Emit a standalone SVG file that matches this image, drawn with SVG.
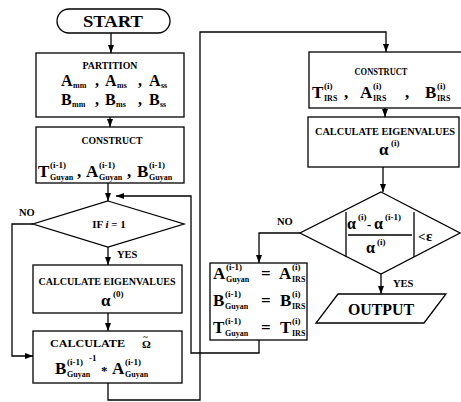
<svg xmlns="http://www.w3.org/2000/svg" width="461" height="402" viewBox="0 0 461 402">
<defs>
<marker id="ar" markerWidth="8" markerHeight="6" refX="8" refY="3" orient="auto" markerUnits="userSpaceOnUse"><path d="M0,0 L8,3 L0,6 z" fill="#000"/></marker>
</defs>
<style>
.ln{fill:none;stroke:#000;stroke-width:1.3}
.bx{fill:#fff;stroke:#000;stroke-width:1.3}
text{font-family:"Liberation Serif","Times New Roman",serif;font-weight:bold;fill:#000}
.t{font-size:9.5px}
.m{font-size:17px}
.sp{font-size:9px}
.sb{font-size:8px}
.lb{font-size:10.5px}
.c{text-anchor:middle}
</style>
<rect width="461" height="402" fill="#fff"/>
<g id="connectors" class="ln">
<path d="M111,33 V53" marker-end="url(#ar)"/>
<path d="M110,117 V127" marker-end="url(#ar)"/>
<path d="M108,183 V201" marker-end="url(#ar)"/>
<path d="M108,247 V265" marker-end="url(#ar)"/>
<path d="M108,313 V331" marker-end="url(#ar)"/>
<path d="M33,224 H12 V356 H33" marker-end="url(#ar)"/>
<path d="M108,383 V400 H200 V32 H386 V52" marker-end="url(#ar)"/>
<path d="M385,108 V117" marker-end="url(#ar)"/>
<path d="M383,167 V192" marker-end="url(#ar)"/>
<path d="M300,233 H259 V263" marker-end="url(#ar)"/>
<path d="M381,274 V294" marker-end="url(#ar)"/>
<path d="M259,340 V353 H191 V196 H116" marker-end="url(#ar)"/>
</g>
<g id="start">
<rect class="bx" x="57" y="9" width="113" height="24" rx="12"/>
<text class="c" x="113" y="27" font-size="17" textLength="60" lengthAdjust="spacingAndGlyphs">START</text>
</g>
<g id="partition">
<rect class="bx" x="36" y="53" width="148" height="64"/>
<text class="t c" x="110" y="69" textLength="55" lengthAdjust="spacingAndGlyphs">PARTITION</text>
<text font-size="16"><tspan x="61" y="86">A</tspan><tspan class="sb" x="73" y="88">mm</tspan><tspan x="95" y="86">,</tspan><tspan x="105" y="86">A</tspan><tspan class="sb" x="117" y="88">ms</tspan><tspan x="138" y="86">,</tspan><tspan x="149" y="86">A</tspan><tspan class="sb" x="161" y="88">ss</tspan></text>
<text font-size="16"><tspan x="61" y="105">B</tspan><tspan class="sb" x="72" y="107">mm</tspan><tspan x="95" y="105">,</tspan><tspan x="105" y="105">B</tspan><tspan class="sb" x="116" y="107">ms</tspan><tspan x="138" y="105">,</tspan><tspan x="149" y="105">B</tspan><tspan class="sb" x="160" y="107">ss</tspan></text>
</g>
<g id="construct-guyan">
<rect class="bx" x="36" y="127" width="148" height="56"/>
<text class="t c" x="112" y="144" textLength="61" lengthAdjust="spacingAndGlyphs">CONSTRUCT</text>
<text class="m"><tspan x="38" y="177">T</tspan><tspan class="sp" x="50" y="168">(i-1)</tspan><tspan class="sb" x="50" y="180">Guyan</tspan><tspan x="77" y="177">,</tspan><tspan x="86" y="177">A</tspan><tspan class="sp" x="99" y="168">(i-1)</tspan><tspan class="sb" x="99" y="180">Guyan</tspan><tspan x="127" y="177">,</tspan><tspan x="137" y="177">B</tspan><tspan class="sp" x="149" y="168">(i-1)</tspan><tspan class="sb" x="149" y="180">Guyan</tspan></text>
</g>
<g id="if-i-1">
<polygon class="bx" points="108,201 184,224 108,247 33,224"/>
<text x="109" y="228" font-size="11" class="c">IF <tspan font-style="italic">i</tspan> = 1</text>
</g>
<g id="calc-eig-0">
<rect class="bx" x="33" y="265" width="149" height="48"/>
<text class="t c" x="107" y="285" textLength="137" lengthAdjust="spacingAndGlyphs">CALCULATE EIGENVALUES</text>
<text font-size="17"><tspan x="101" y="306">α</tspan><tspan class="sp" x="113" y="297">(0)</tspan></text>
</g>
<g id="calc-omega">
<rect class="bx" x="33" y="331" width="149" height="52"/>
<text class="t"><tspan x="50" y="347" textLength="75" lengthAdjust="spacingAndGlyphs">CALCULATE</tspan><tspan x="142" y="348" font-size="11">Ω</tspan><tspan x="143" y="340" font-size="9">~</tspan></text>
<text class="m"><tspan x="55" y="374">B</tspan><tspan class="sp" x="67" y="365">(i-1)</tspan><tspan class="sb" x="67" y="377">Guyan</tspan><tspan class="sp" x="89" y="361">-1</tspan><tspan x="101" y="375" font-size="13">*</tspan><tspan x="112" y="374">A</tspan><tspan class="sp" x="125" y="365">(i-1)</tspan><tspan class="sb" x="125" y="377">Guyan</tspan></text>
</g>
<g id="construct-irs">
<rect class="bx" x="309" y="52" width="155" height="56"/>
<text class="t c" x="381" y="75" textLength="53" lengthAdjust="spacingAndGlyphs">CONSTRUCT</text>
<text class="m"><tspan x="312" y="98">T</tspan><tspan class="sp" x="324" y="89">(i)</tspan><tspan class="sb" x="324" y="101">IRS</tspan><tspan x="344" y="98">,</tspan><tspan x="360" y="98">A</tspan><tspan class="sp" x="373" y="89">(i)</tspan><tspan class="sb" x="373" y="101">IRS</tspan><tspan x="405" y="98">,</tspan><tspan x="425" y="98">B</tspan><tspan class="sp" x="437" y="89">(i)</tspan><tspan class="sb" x="437" y="101">IRS</tspan></text>
</g>
<g id="calc-eig-i">
<rect class="bx" x="308" y="117" width="151" height="50"/>
<text class="t c" x="385" y="135" textLength="140" lengthAdjust="spacingAndGlyphs">CALCULATE EIGENVALUES</text>
<text font-size="17"><tspan x="379" y="155">α</tspan><tspan class="sp" x="391" y="146">(i)</tspan></text>
</g>
<g id="convergence">
<polygon class="bx" points="381,192 460,233 381,274 300,233"/>
<path class="ln" d="M346,212 V257 M414,212 V257 M348,235 H412"/>
<text font-size="16"><tspan x="347" y="229">α</tspan><tspan class="sp" x="358" y="220">(i)</tspan><tspan x="367" y="229" font-size="13">-</tspan><tspan x="374" y="229">α</tspan><tspan class="sp" x="385" y="220">(i-1)</tspan><tspan x="366" y="253">α</tspan><tspan class="sp" x="377" y="245">(i)</tspan></text>
<text font-size="15"><tspan x="418" y="241" font-size="13">&lt;</tspan><tspan x="426" y="241">ε</tspan></text>
</g>
<g id="update">
<rect class="bx" x="210" y="263" width="97" height="77"/>
<text class="m"><tspan x="213" y="279">A</tspan><tspan class="sp" x="226" y="270">(i-1)</tspan><tspan class="sb" x="226" y="282">Guyan</tspan><tspan x="261" y="279">=</tspan><tspan x="279" y="279">A</tspan><tspan class="sp" x="292" y="270">(i)</tspan><tspan class="sb" x="292" y="282">IRS</tspan></text>
<text class="m"><tspan x="213" y="306">B</tspan><tspan class="sp" x="225" y="297">(i-1)</tspan><tspan class="sb" x="225" y="309">Guyan</tspan><tspan x="261" y="306">=</tspan><tspan x="280" y="306">B</tspan><tspan class="sp" x="292" y="297">(i)</tspan><tspan class="sb" x="292" y="309">IRS</tspan></text>
<text class="m"><tspan x="213" y="333">T</tspan><tspan class="sp" x="225" y="324">(i-1)</tspan><tspan class="sb" x="225" y="336">Guyan</tspan><tspan x="261" y="333">=</tspan><tspan x="280" y="333">T</tspan><tspan class="sp" x="292" y="324">(i)</tspan><tspan class="sb" x="292" y="336">IRS</tspan></text>
</g>
<g id="output">
<polygon class="bx" points="338,294 446,294 424,323 316,323"/>
<text class="c" x="381" y="315" font-size="16" textLength="66" lengthAdjust="spacingAndGlyphs">OUTPUT</text>
</g>
<g id="labels">
<text class="lb" x="19" y="216">NO</text>
<text class="lb" x="117" y="258">YES</text>
<text class="lb" x="277" y="225">NO</text>
<text class="lb" x="393" y="287">YES</text>
</g>
</svg>
